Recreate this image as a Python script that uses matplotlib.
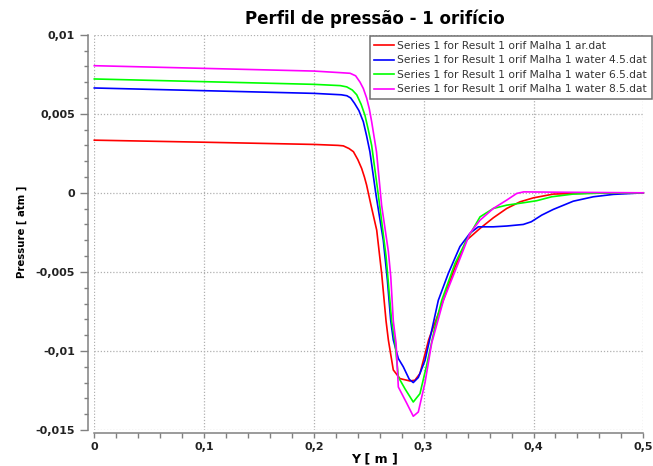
import matplotlib
matplotlib.use("Agg")
import matplotlib.pyplot as plt
from matplotlib.ticker import MultipleLocator, FuncFormatter

# pressure profiles along Y, one per case
y_ar = [0, 0.1, 0.2, 0.222, 0.2268, 0.232, 0.236, 0.24, 0.2435, 0.246, 0.248, 0.252,
        0.2572, 0.2617, 0.2657, 0.2678, 0.2723, 0.2784, 0.2875, 0.292, 0.2966, 0.3045,
        0.3178, 0.3285, 0.339, 0.3513, 0.3634, 0.3756, 0.3877, 0.3998, 0.418, 0.45, 0.5]
p_ar = [0.00333, 0.0032, 0.00306, 0.0030, 0.00297, 0.0028, 0.0026, 0.0021, 0.00154, 0.0010,
        0.00049, -0.00078, -0.00236, -0.0051, -0.0081, -0.0093, -0.0112, -0.01175, -0.0119,
        -0.01185, -0.01143, -0.0093, -0.0068, -0.0047, -0.003, -0.00225, -0.00158, -0.00099,
        -0.00057, -0.00032, -0.00008, -0.00002, 0.0]

y_w45 = [0, 0.1, 0.2, 0.225, 0.23, 0.2335, 0.237, 0.241, 0.245, 0.248, 0.251, 0.2566,
         0.2632, 0.2669, 0.27, 0.2723, 0.2769, 0.2814, 0.2869, 0.2905, 0.2951, 0.3012,
         0.3073, 0.3133, 0.3224, 0.333, 0.342, 0.3497, 0.3634, 0.3756, 0.3907, 0.398,
         0.4075, 0.418, 0.4362, 0.4545, 0.4727, 0.5]
p_w45 = [0.00663, 0.00646, 0.00629, 0.0062, 0.00614, 0.0060, 0.00566, 0.0052, 0.0045,
         0.0036, 0.0026, -0.00015, -0.0030, -0.0055, -0.0081, -0.0093, -0.01048, -0.0110,
         -0.0118, -0.0120, -0.01168, -0.0106, -0.0087, -0.0068, -0.0051, -0.0034, -0.00257,
         -0.00215, -0.00215, -0.0021, -0.0020, -0.00183, -0.00141, -0.00105, -0.00053,
         -0.00025, -0.0001, 0.0]

y_w65 = [0, 0.1, 0.2, 0.224, 0.2299, 0.235, 0.239, 0.243, 0.2465, 0.2495, 0.2526, 0.2587,
         0.2657, 0.2708, 0.2739, 0.2769, 0.283, 0.2905, 0.2966, 0.3027, 0.3102, 0.3164,
         0.3285, 0.339, 0.3513, 0.3634, 0.3756, 0.3907, 0.4029, 0.4166, 0.436, 0.46, 0.5]
p_w65 = [0.0072, 0.00703, 0.00686, 0.00678, 0.0067, 0.0065, 0.0062, 0.0056, 0.0049, 0.0040,
         0.0030, -0.00015, -0.0040, -0.0081, -0.0095, -0.01165, -0.0124, -0.01323, -0.0127,
         -0.0109, -0.0085, -0.0068, -0.00447, -0.003, -0.00152, -0.00099, -0.00078,
         -0.00063, -0.0005, -0.00025, -0.00008, -0.00002, 0.0]

y_w85 = [0, 0.1, 0.2, 0.224, 0.233, 0.238, 0.242, 0.245, 0.248, 0.2505, 0.2526, 0.257,
         0.2617, 0.2678, 0.27, 0.2723, 0.2748, 0.2769, 0.2845, 0.2905, 0.2951, 0.3012,
         0.3073, 0.318, 0.33, 0.342, 0.3513, 0.3634, 0.3756, 0.3847, 0.391, 0.42, 0.5]
p_w85 = [0.00804, 0.00787, 0.0077, 0.0076, 0.00756, 0.0074, 0.0070, 0.0066, 0.0060, 0.0053,
         0.0045, 0.0026, -0.0008, -0.0037, -0.0053, -0.0081, -0.0095, -0.01228, -0.0133,
         -0.01413, -0.01386, -0.0120, -0.0095, -0.0068, -0.0047, -0.00257, -0.00173,
         -0.00099, -0.00046, -0.00004, 0.00006, 0.00004, 0.0]

labels = ["Series 1 for Result 1 orif Malha 1 ar.dat",
          "Series 1 for Result 1 orif Malha 1 water 4.5.dat",
          "Series 1 for Result 1 orif Malha 1 water 6.5.dat",
          "Series 1 for Result 1 orif Malha 1 water 8.5.dat"]
colors = ["#ff0000", "#0000ff", "#00ff00", "#ff00ff"]

W, H = 653, 466
fig = plt.figure(figsize=(W / 100, H / 100), dpi=100)
ax = fig.add_axes([94.3 / W, 1 - 430 / H, (643.3 - 94.3) / W, (430 - 34.7) / H])

series = [(y_ar, p_ar), (y_w45, p_w45), (y_w65, p_w65), (y_w85, p_w85)]
for (xs, ps), lab, c in zip(series, labels, colors):
    ax.plot(xs, ps, color=c, lw=1.2, label=lab, clip_on=False)

ax.set_xlim(0, 0.5)
ax.set_ylim(-0.015, 0.01)

ax.xaxis.set_major_locator(MultipleLocator(0.1))
ax.xaxis.set_minor_locator(MultipleLocator(0.02))
ax.yaxis.set_major_locator(MultipleLocator(0.005))
ax.yaxis.set_minor_locator(MultipleLocator(0.001))


def comma(v, pos):
    if abs(v) < 1e-12:
        return "0"
    return "{:g}".format(round(v, 6)).replace(".", ",")


ax.xaxis.set_major_formatter(FuncFormatter(comma))
ax.yaxis.set_major_formatter(FuncFormatter(comma))

ax.grid(True, which="major", color="#b0b0b0", linestyle=(0, (1, 1.5)), lw=0.9)

for s in ("top", "right"):
    ax.spines[s].set_visible(False)
ax.spines["left"].set_position(("outward", 4.8))
ax.spines["bottom"].set_position(("outward", 2.5))
for s in ("left", "bottom"):
    ax.spines[s].set_color("#808080")
    ax.spines[s].set_linewidth(1.1)

ax.tick_params(axis="y", which="major", direction="out", length=5.5, width=1,
               color="#808080", pad=3.5, labelsize=8, labelcolor="#222222")
ax.tick_params(axis="y", which="minor", direction="out", length=3, width=1, color="#808080")
ax.tick_params(axis="x", which="major", direction="out", length=3.5, width=1,
               color="#808080", pad=3, labelsize=8, labelcolor="#222222")
ax.tick_params(axis="x", which="minor", direction="out", length=3.5, width=1, color="#808080")
for t in ax.get_xticklabels() + ax.get_yticklabels():
    t.set_fontweight("bold")

fig.text(375 / W, 1 - 19 / H, "Perfil de pressão - 1 orifício", ha="center", va="center",
         fontsize=12, fontweight="bold")
fig.text(375 / W, 1 - 459 / H, "Y [ m ]", ha="center", va="center",
         fontsize=9, fontweight="bold")
fig.text(22 / W, 1 - 232 / H, "Pressure [ atm ]", ha="center", va="center",
         rotation=90, fontsize=7.3, fontweight="bold")

leg = ax.legend(loc="upper right", bbox_to_anchor=(652 / W, 1 - 36 / H),
                bbox_transform=fig.transFigure, fontsize=7.7, frameon=True, fancybox=False,
                handlelength=1.8, handletextpad=0.35, labelspacing=0.42, borderpad=0.45,
                borderaxespad=0)
leg.get_frame().set_edgecolor("#707070")
leg.get_frame().set_linewidth(1.1)
leg.get_frame().set_alpha(1)
for t in leg.get_texts():
    t.set_color("#333333")

fig.savefig("out.png", dpi=100)
